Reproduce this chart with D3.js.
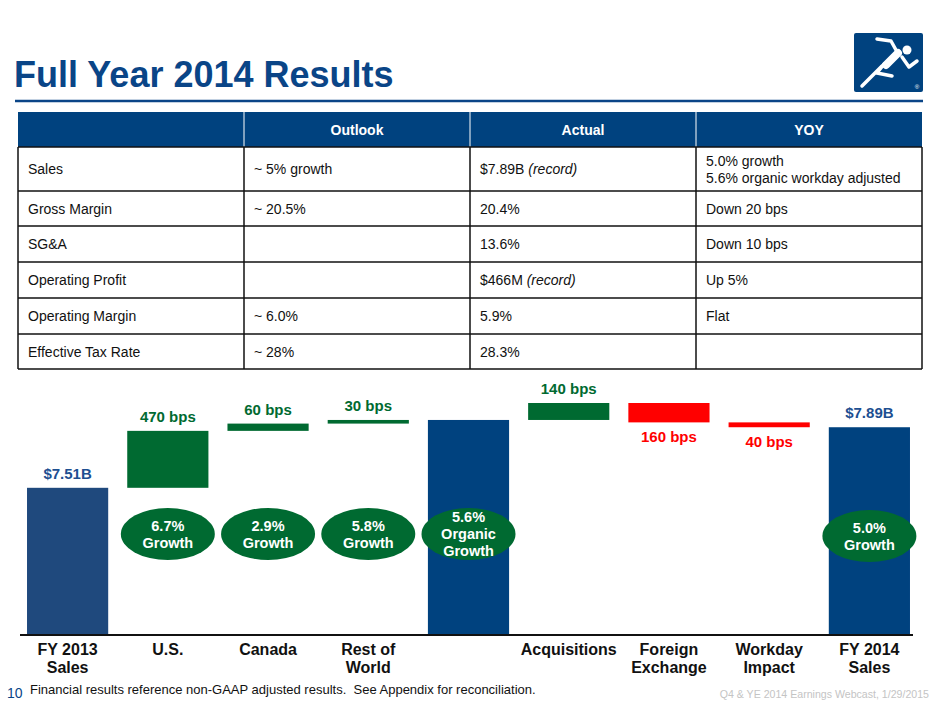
<!DOCTYPE html>
<html>
<head>
<meta charset="utf-8">
<script src="https://cdn.jsdelivr.net/npm/d3@7"></script>
<style>
  html, body { margin: 0; padding: 0; background: #fff; }
  svg { display: block; font-family: "Liberation Sans", Arial, Helvetica, sans-serif; }
</style>
</head>
<body>
<div id="chart"></div>
<script>
// ---- table data ----
const tableColumns = ["", "Outlook", "Actual", "YOY"]
const tableMetrics = ["Sales", "Gross Margin", "SG&A", "Operating Profit", "Operating Margin", "Effective Tax Rate"]
const tableOutlook = ["~ 5% growth", "~ 20.5%", "", "", "~ 6.0%", "~ 28%"]
const tableActual = ["$7.89B", "20.4%", "13.6%", "$466M", "5.9%", "28.3%"]
const tableActualNote = ["(record)", "", "", "(record)", "", ""]
const tableYoy = [["5.0% growth", "5.6% organic workday adjusted"], ["Down 20 bps"], ["Down 10 bps"], ["Up 5%"], ["Flat"], [""]]

// ---- waterfall data (bps of FY2013 sales) ----
const categories = [["FY 2013", "Sales"], ["U.S."], ["Canada"], ["Rest of", "World"], [""], ["Acquisitions"], ["Foreign", "Exchange"], ["Workday", "Impact"], ["FY 2014", "Sales"]]
const stepTypes = ["total", "delta", "delta", "delta", "total", "delta", "delta", "delta", "total"]
const stepBps = [0, 470, 60, 30, 0, 140, -160, -40, 0]
const stepLabels = ["$7.51B", "470 bps", "60 bps", "30 bps", "", "140 bps", "160 bps", "40 bps", "$7.89B"]
const growthBadges = [[], ["6.7%", "Growth"], ["2.9%", "Growth"], ["5.8%", "Growth"], ["5.6%", "Organic", "Growth"], [], [], [], ["5.0%", "Growth"]]
const axisFloorBps = -1215   // truncated axis: baseline is not zero
const axisTopBps = 700

const BLUE = "#0a4587"
const BAR_BLUE = "#00427f"
const BAR_BLUE_OLD = "#1f497d"
const GREEN = "#006a31"
const RED = "#ff0000"

const W = 940, H = 705
const svg = d3.select("#chart").append("svg")
  .attr("width", W).attr("height", H)
  .attr("viewBox", `0 0 ${W} ${H}`)

// Title
svg.append("text")
  .attr("x", 14).attr("y", 87)
  .attr("fill", BLUE)
  .attr("font-size", "36px")
  .attr("font-weight", "bold")
  .text("Full Year 2014 Results")

svg.append("line")
  .attr("x1", 15).attr("x2", 923)
  .attr("y1", 101).attr("y2", 101)
  .attr("stroke", BLUE).attr("stroke-width", 2.5)

// Logo (runner)
const logo = svg.append("g")
logo.append("rect")
  .attr("x", 854).attr("y", 33).attr("width", 69).attr("height", 59)
  .attr("rx", 2).attr("fill", BAR_BLUE)
logo.append("circle").attr("cx", 907).attr("cy", 50).attr("r", 4.5).attr("fill", "#fff")
const limb = (pts, w) => logo.append("path")
  .attr("d", d3.line()(pts))
  .attr("fill", "none").attr("stroke", "#fff")
  .attr("stroke-width", w).attr("stroke-linecap", "round").attr("stroke-linejoin", "round")
limb([[877, 39], [891, 41], [896, 50]], 3.5)
limb([[898, 53], [886, 65]], 8)
limb([[902, 57], [909, 67], [917, 61]], 3.5)
limb([[884, 64], [877, 73], [892, 76]], 3.5)
limb([[882, 66], [862, 86]], 3.5)
logo.append("text")
  .attr("x", 917).attr("y", 89)
  .attr("text-anchor", "middle")
  .attr("fill", "#fff").attr("font-size", "6px")
  .text("®")

// ---- Table ----
const colX = d3.scaleBand().domain(d3.range(tableColumns.length)).range([18, 922])
const rowHeights = [35, 44, 35, 36, 36, 36, 35]
const rowTops = [112]
rowHeights.forEach((h, i) => rowTops.push(rowTops[i] + h))
const tbl = svg.append("g").attr("font-size", "14px")

tbl.append("rect")
  .attr("x", 18).attr("y", rowTops[0])
  .attr("width", 904).attr("height", rowHeights[0])
  .attr("fill", BAR_BLUE)

tbl.selectAll("line.hsep")
  .data(d3.range(1, tableColumns.length))
  .enter().append("line")
  .attr("x1", d => colX(d)).attr("x2", d => colX(d))
  .attr("y1", rowTops[0]).attr("y2", rowTops[1])
  .attr("stroke", "#fff").attr("stroke-width", 1)

tbl.selectAll("text.head")
  .data(tableColumns)
  .enter().append("text")
  .attr("x", (d, i) => colX(i) + colX.bandwidth() / 2)
  .attr("y", rowTops[0] + rowHeights[0] / 2 + 5)
  .attr("text-anchor", "middle")
  .attr("fill", "#fff")
  .attr("font-weight", "bold")
  .text(d => d)

// grid
const bodyTop = rowTops[1], bodyBottom = rowTops[rowTops.length - 1]
tbl.selectAll("line.row")
  .data(rowTops.slice(1))
  .enter().append("line")
  .attr("x1", 18).attr("x2", 922)
  .attr("y1", d => d).attr("y2", d => d)
  .attr("stroke", "#111").attr("stroke-width", 1.5)
tbl.selectAll("line.col")
  .data(d3.range(tableColumns.length + 1))
  .enter().append("line")
  .attr("x1", d => d < tableColumns.length ? colX(d) : 922)
  .attr("x2", d => d < tableColumns.length ? colX(d) : 922)
  .attr("y1", bodyTop).attr("y2", bodyBottom)
  .attr("stroke", "#111").attr("stroke-width", 1.5)

tableMetrics.forEach((m, r) => {
  const cy = rowTops[r + 1] + rowHeights[r + 1] / 2 + 5
  const cellText = (col, txt) => tbl.append("text")
    .attr("x", colX(col) + 10).attr("y", cy)
    .attr("fill", "#111")
    .text(txt)
  cellText(0, m)
  cellText(1, tableOutlook[r])
  const a = cellText(2, tableActual[r])
  if (tableActualNote[r]) {
    a.append("tspan").text(" ")
    a.append("tspan").attr("font-style", "italic").text(tableActualNote[r])
  }
  const lines = tableYoy[r]
  lines.forEach((ln, k) => {
    tbl.append("text")
      .attr("x", colX(3) + 10)
      .attr("y", cy + (k - (lines.length - 1) / 2) * 17)
      .attr("fill", "#111")
      .text(ln)
  })
})

// ---- Waterfall ----
let level = 0
const bars = categories.map((c, i) => {
  if (stepTypes[i] === "total") {
    level += stepBps[i]
    return { i, y0: axisFloorBps, y1: level, total: true }
  }
  const b = { i, y0: level, y1: level + stepBps[i], total: false }
  level += stepBps[i]
  return b
})

const x = d3.scaleBand()
  .domain(d3.range(categories.length))
  .range([17.5, 919.5])
  .paddingInner(0.19)
  .paddingOuter(0.095)
const y = d3.scaleLinear().domain([axisFloorBps, axisTopBps]).range([635, 403])

const chart = svg.append("g")

chart.selectAll("rect.bar")
  .data(bars)
  .enter().append("rect")
  .attr("class", "bar")
  .attr("x", d => x(d.i))
  .attr("width", x.bandwidth())
  .attr("y", d => y(Math.max(d.y0, d.y1)))
  .attr("height", d => Math.abs(y(d.y0) - y(d.y1)))
  .attr("fill", d => d.total ? (d.i === 0 ? BAR_BLUE_OLD : BAR_BLUE) : (d.y1 >= d.y0 ? GREEN : RED))

// value labels
chart.selectAll("text.val")
  .data(bars.filter(d => stepLabels[d.i]))
  .enter().append("text")
  .attr("x", d => x(d.i) + x.bandwidth() / 2)
  .attr("y", d => d.y1 >= d.y0 ? y(d.y1) - 9 : y(d.y1) + 20)
  .attr("text-anchor", "middle")
  .attr("font-size", "15px")
  .attr("font-weight", "bold")
  .attr("fill", d => d.total ? "#1d4f91" : (d.y1 >= d.y0 ? GREEN : RED))
  .text(d => stepLabels[d.i])

// growth badges
const badges = chart.selectAll("g.badge")
  .data(bars.filter(d => growthBadges[d.i].length))
  .enter().append("g")
  .attr("transform", d => `translate(${x(d.i) + x.bandwidth() / 2},${d.i === 8 ? 536 : 534})`)
badges.append("ellipse")
  .attr("rx", 47).attr("ry", 26)
  .attr("fill", GREEN)
badges.each(function (d) {
  const lines = growthBadges[d.i]
  d3.select(this).selectAll("text")
    .data(lines)
    .enter().append("text")
    .attr("y", (t, k) => (k - (lines.length - 1) / 2) * 17 + 5)
    .attr("text-anchor", "middle")
    .attr("fill", "#fff")
    .attr("font-size", "14.5px")
    .attr("font-weight", "bold")
    .text(t => t)
})

// baseline axis
const xAxis = d3.axisBottom(x).tickSize(0).tickFormat("")
chart.append("g")
  .attr("transform", `translate(0,${y(axisFloorBps)})`)
  .call(xAxis)
  .call(g => g.select(".domain").attr("d", "M20,0H913").attr("stroke", "#111").attr("stroke-width", 2))

chart.selectAll("text.cat")
  .data(categories)
  .enter().append("text")
  .attr("x", (d, i) => x(i) + x.bandwidth() / 2)
  .attr("y", 655)
  .attr("text-anchor", "middle")
  .attr("font-size", "16px")
  .attr("font-weight", "bold")
  .attr("fill", "#111")
  .each(function (d) {
    d3.select(this).selectAll("tspan")
      .data(d)
      .enter().append("tspan")
      .attr("x", x(categories.indexOf(d)) + x.bandwidth() / 2)
      .attr("dy", (t, k) => k === 0 ? 0 : 18)
      .text(t => t)
  })

// footer
svg.append("text")
  .attr("x", 7).attr("y", 698)
  .attr("fill", BLUE).attr("font-size", "14px")
  .text("10")
svg.append("text")
  .attr("x", 30).attr("y", 694)
  .attr("fill", "#111").attr("font-size", "13px")
  .style("white-space", "pre")
  .text("Financial results reference non-GAAP adjusted results.  See Appendix for reconciliation.")
svg.append("text")
  .attr("x", 929).attr("y", 698)
  .attr("text-anchor", "end")
  .attr("fill", "#c4c4c4").attr("font-size", "10.6px")
  .text("Q4 & YE 2014 Earnings Webcast, 1/29/2015")
</script>
</body>
</html>
